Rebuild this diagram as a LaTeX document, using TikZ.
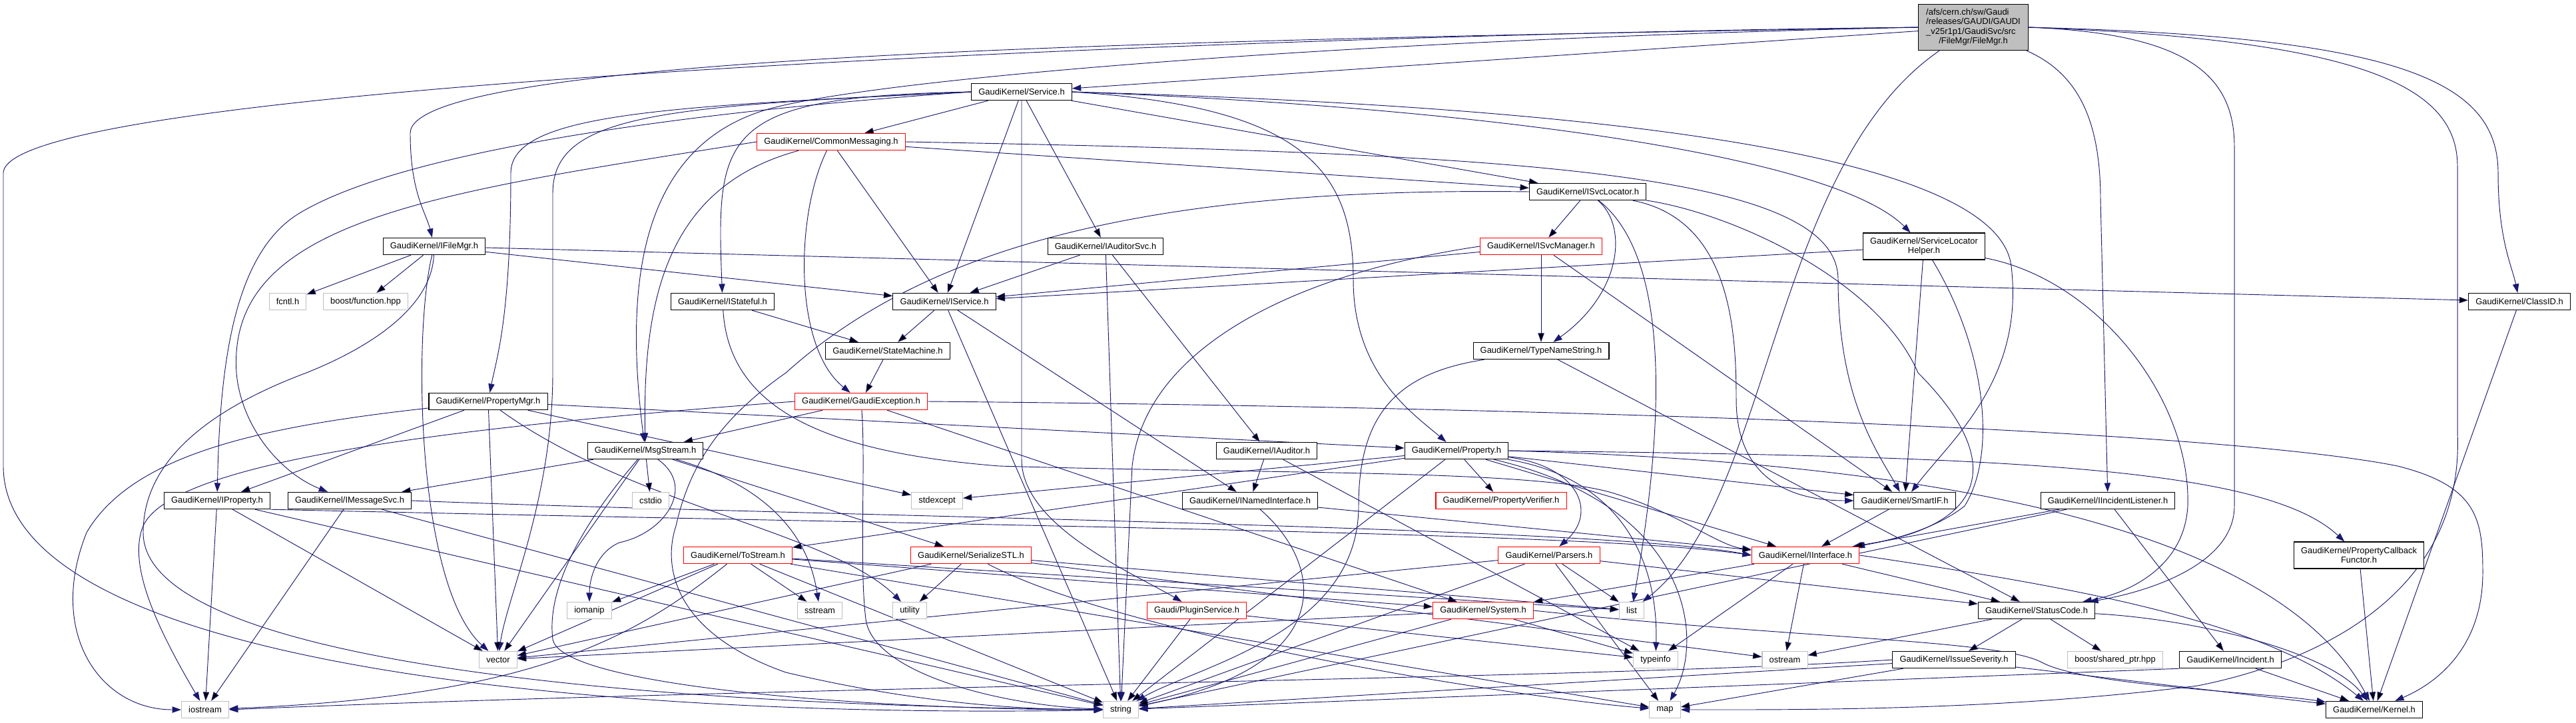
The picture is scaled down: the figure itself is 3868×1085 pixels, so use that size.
\documentclass[tikz,border=0pt]{standalone}
\usepackage{fontspec}
\setmainfont{Liberation Sans}
\usepackage{tikz}
\usepackage{xcolor}
\usetikzlibrary{arrows.meta, backgrounds}
\definecolor{edgeblue}{HTML}{191970}
\definecolor{boxgray}{HTML}{BFBFBF}
\definecolor{boxred}{HTML}{FF0000}
\newcommand{\graphfont}{\fontsize{9.7}{10.8}\selectfont}
\tikzset{
    file-box/.style = {draw=black, fill=white, line width=0.8pt, rectangle, inner xsep=8pt, inner ysep=2pt, minimum height=19pt, font=\graphfont},
    trunc-box/.style = {file-box, draw=boxred},
    sys-box/.style = {file-box, draw=boxgray},
    root-box/.style = {file-box, fill=boxgray, inner xsep=8.5pt, minimum height=52pt},
    two-line-box/.style = {file-box, align=center, minimum height=30pt},
    dep-edge/.style = {draw=edgeblue, line width=0.7pt, -{Triangle[length=10pt, width=7pt]}},
}

\begin{document}
\begin{tikzpicture}[x=0.75pt, y=-0.75pt]
\useasboundingbox (0,0) rectangle (3868,1085);

\node[root-box] (root) at (2963,41) {\begin{tabular}{@{}l@{}}/afs/cern.ch/sw/Gaudi\\/releases/GAUDI/GAUDI\\\_v25r1p1/GaudiSvc/src\\\multicolumn{1}{@{}c@{}}{/FileMgr/FileMgr.h}\end{tabular}};
\node[file-box] (svc) at (1534,138) {GaudiKernel/Service.h};
\node[file-box] (ifilemgr) at (652,370) {GaudiKernel/IFileMgr.h};
\node[sys-box] (fcntl) at (432,453) {fcntl.h};
\node[sys-box] (boostfn) at (549,453) {boost/function.hpp};
\node[trunc-box] (comm) at (1248,213) {GaudiKernel/CommonMessaging.h};
\node[file-box] (isvcloc) at (2384,288) {GaudiKernel/ISvcLocator.h};
\node[two-line-box] (slh) at (2889,370) {GaudiKernel/ServiceLocator\\Helper.h};
\node[file-box] (iauditsvc) at (1660,370) {GaudiKernel/IAuditorSvc.h};
\node[file-box] (istateful) at (1085,453) {GaudiKernel/IStateful.h};
\node[file-box] (iservice) at (1418,453) {GaudiKernel/IService.h};
\node[trunc-box] (isvcmgr) at (2314,370) {GaudiKernel/ISvcManager.h};
\node[file-box] (classid) at (3783,453) {GaudiKernel/ClassID.h};
\node[file-box] (statemach) at (1333,527) {GaudiKernel/StateMachine.h};
\node[file-box] (typename) at (2314,527) {GaudiKernel/TypeNameString.h};
\node[file-box] (propmgr) at (733,603) {GaudiKernel/PropertyMgr.h};
\node[trunc-box] (gexc) at (1293,603) {GaudiKernel/GaudiException.h};
\node[file-box] (msgstream) at (969,677) {GaudiKernel/MsgStream.h};
\node[file-box] (property) at (2187,677) {GaudiKernel/Property.h};
\node[file-box] (iauditor) at (1902,677) {GaudiKernel/IAuditor.h};
\node[file-box] (iproperty) at (326,752) {GaudiKernel/IProperty.h};
\node[file-box] (imsgsvc) at (525,752) {GaudiKernel/IMessageSvc.h};
\node[sys-box] (stdexcept) at (1407,752) {stdexcept};
\node[sys-box] (cstdio) at (977,752) {cstdio};
\node[file-box] (inamed) at (1877,752) {GaudiKernel/INamedInterface.h};
\node[trunc-box] (propverif) at (2254,752) {GaudiKernel/PropertyVerifier.h};
\node[file-box] (smartif) at (2860,752) {GaudiKernel/SmartIF.h};
\node[file-box] (iincident) at (3165,752) {GaudiKernel/IIncidentListener.h};
\node[two-line-box] (propcb) at (3542,834) {GaudiKernel/PropertyCallback\\Functor.h};
\node[trunc-box] (tostream) at (1108,834) {GaudiKernel/ToStream.h};
\node[trunc-box] (serial) at (1458,834) {GaudiKernel/SerializeSTL.h};
\node[trunc-box] (parsers) at (2326,834) {GaudiKernel/Parsers.h};
\node[trunc-box] (iinterface) at (2711,834) {GaudiKernel/IInterface.h};
\node[sys-box] (iomanip) at (885,917) {iomanip};
\node[sys-box] (sstream) at (1231,917) {sstream};
\node[sys-box] (utility) at (1366,917) {utility};
\node[trunc-box] (plugin) at (1797,917) {Gaudi/PluginService.h};
\node[trunc-box] (system) at (2227,917) {GaudiKernel/System.h};
\node[sys-box] (list) at (2450,917) {list};
\node[file-box] (statuscode) at (3058,917) {GaudiKernel/StatusCode.h};
\node[sys-box] (vector) at (748,991) {vector};
\node[sys-box] (typeinfo) at (2486,991) {typeinfo};
\node[sys-box] (ostream) at (2680,991) {ostream};
\node[file-box] (severity) at (2934,991) {GaudiKernel/IssueSeverity.h};
\node[sys-box] (sharedptr) at (3176,991) {boost/shared\_ptr.hpp};
\node[file-box] (incident) at (3349,991) {GaudiKernel/Incident.h};
\node[sys-box] (iostream) at (308,1066) {iostream};
\node[sys-box] (string) at (1683,1066) {string};
\node[sys-box] (map) at (2500,1066) {map};
\node[file-box] (kernel) at (3565,1066) {GaudiKernel/Kernel.h};

\begin{pgfonlayer}{background}
% FileMgr.h
\draw[dep-edge] (root) -- (svc);
\draw[dep-edge] (root.west) .. controls (1800,60) and (616,80) .. (616,200) .. controls (616,290) and (640,320) .. (ifilemgr);
\draw[dep-edge] (root.west) .. controls (2000,50) and (5,120) .. (5,260) -- (5,700) .. controls (5,1000) and (900,1080) .. (string);
\draw[dep-edge] (root.west) .. controls (2000,60) and (1300,120) .. (1150,165) .. controls (950,225) and (940,450) .. (msgstream);
\draw[dep-edge] (root) .. controls (2660,250) and (2660,750) .. (list);
\draw[dep-edge] (root.east) .. controls (3550,60) and (3690,130) .. (3690,250) -- (3690,650) .. controls (3700,880) and (3500,990) .. (3300,1030) .. controls (3000,1068) and (2700,1066) .. (map);
\draw[dep-edge] (root.east) .. controls (3600,55) and (3751,120) .. (3751,260) .. controls (3751,360) and (3772,400) .. (classid);
\draw[dep-edge] (root.east) .. controls (3280,50) and (3355,110) .. (3355,220) -- (3355,760) .. controls (3355,850) and (3220,890) .. (statuscode);
\draw[dep-edge] (root) .. controls (3120,110) and (3154,180) .. (3154,300) -- (iincident);

% Service.h
\path[dep-edge] (svc) edge (comm) edge (iservice) edge (iauditsvc) edge (isvcloc);
\draw[dep-edge] (svc.west) .. controls (1000,170) and (600,230) .. (450,320) .. controls (350,380) and (330,550) .. (iproperty);
\draw[dep-edge] (svc.west) .. controls (1000,160) and (767,170) .. (767,260) .. controls (767,480) and (745,540) .. (propmgr);
\draw[dep-edge] (svc.west) .. controls (1000,160) and (830,170) .. (830,290) -- (830,560) .. controls (830,750) and (760,900) .. (vector);
\draw[dep-edge] (svc.west) .. controls (1080,145) and (1075,200) .. (istateful);
\draw[dep-edge] (svc) -- (1534,690) .. controls (1534,790) and (1700,860) .. (plugin);
\draw[dep-edge] (svc.east) .. controls (2200,160) and (2750,230) .. (slh);
\draw[dep-edge] (svc.east) .. controls (2400,160) and (3000,230) .. (3020,400) .. controls (3040,570) and (2930,660) .. (smartif);
\draw[dep-edge] (svc.east) .. controls (1950,160) and (2032,250) .. (2032,420) .. controls (2032,560) and (2120,620) .. (property);

% CommonMessaging.h
\path[dep-edge] (comm) edge (isvcloc) edge (iservice);
\draw[dep-edge] (comm.east) .. controls (2300,230) and (2760,260) .. (2760,420) .. controls (2760,600) and (2820,680) .. (smartif);
\draw[dep-edge] (comm) .. controls (1000,280) and (965,450) .. (msgstream);
\draw[dep-edge] (comm.west) .. controls (650,290) and (340,330) .. (355,560) .. controls (362,640) and (420,710) .. (imsgsvc);
\draw[dep-edge] (comm) .. controls (1195,320) and (1190,520) .. (gexc);

% IFileMgr.h
\path[dep-edge] (ifilemgr) edge (fcntl) edge (boostfn) edge (iservice) edge (classid);
\draw[dep-edge] (ifilemgr) .. controls (620,500) and (625,880) .. (vector);
\draw[dep-edge] (ifilemgr) .. controls (648,460) and (560,520) .. (460,560) .. controls (300,620) and (215,700) .. (215,800) .. controls (215,1000) and (1000,1060) .. (string);

\path[dep-edge] (iauditsvc) edge (iservice) edge (iauditor) edge (string);
\path[dep-edge] (istateful) edge (statemach);
\draw[dep-edge] (istateful) .. controls (1095,620) and (1250,680) .. (1500,700) .. controls (1900,712) and (2300,705) .. (2420,740) .. controls (2520,770) and (2580,820) .. (iinterface);
\path[dep-edge] (iservice) edge (statemach) edge (string) edge (inamed);

% ISvcLocator.h
\path[dep-edge] (isvcloc) edge (isvcmgr);
\draw[dep-edge] (isvcloc) .. controls (2445,340) and (2435,440) .. (typename);
\draw[dep-edge] (isvcloc) .. controls (2500,380) and (2506,600) .. (list);
\draw[dep-edge] (isvcloc) .. controls (2600,330) and (2607,500) .. (2607,600) .. controls (2607,720) and (2690,752) .. (smartif);
\draw[dep-edge] (isvcloc) .. controls (2600,320) and (2820,420) .. (2880,560) .. controls (3010,690) and (2990,790) .. ([xshift=-8pt]iinterface.north east);
\draw[dep-edge] (isvcloc.west) .. controls (1700,280) and (1380,380) .. (1180,560) .. controls (1080,630) and (1035,700) .. (1015,790) .. controls (995,850) and (1010,950) .. (1180,1010) .. controls (1350,1050) and (1500,1066) .. (string);

\path[dep-edge] (isvcmgr) edge (iservice) edge (typename) edge (smartif);
\draw[dep-edge] (isvcmgr.west) .. controls (1950,410) and (1720,520) .. (1700,700) -- (string);
\path[dep-edge] (slh) edge (iservice) edge (smartif);
\draw[dep-edge] (slh) .. controls (2980,520) and (3000,680) .. (2950,760) .. controls (2900,800) and (2820,815) .. (iinterface);
\draw[dep-edge] (slh) .. controls (3150,420) and (3290,600) .. (3285,760) .. controls (3280,850) and (3200,890) .. (statuscode);
\path[dep-edge] (typename) edge (statuscode);
\draw[dep-edge] (typename) .. controls (2100,560) and (2040,620) .. (2040,760) .. controls (2040,950) and (1800,1000) .. (string);
\path[dep-edge] (classid) edge (kernel);
\path[dep-edge] (statemach) edge (gexc);

% PropertyMgr.h, GaudiException.h, MsgStream.h
\path[dep-edge] (propmgr) edge (iproperty) edge (property) edge (stdexcept) edge (vector);
\draw[dep-edge] (propmgr) .. controls (950,760) and (1250,800) .. (utility);
\draw[dep-edge] (propmgr) .. controls (400,640) and (200,680) .. (130,800) .. controls (70,950) and (150,1066) .. (iostream);
\path[dep-edge] (gexc) edge (msgstream) edge (system);
\draw[dep-edge] (gexc.west) .. controls (700,640) and (260,690) .. (215,790) .. controls (190,850) and (240,950) .. (iostream);
\draw[dep-edge] (gexc) .. controls (1300,700) and (1290,850) .. (1300,930) .. controls (1310,1010) and (1500,1060) .. (string);
\draw[dep-edge] (gexc.east) .. controls (2200,610) and (3300,640) .. (3600,700) .. controls (3720,730) and (3728,780) .. (3728,860) .. controls (3728,980) and (3650,1030) .. (kernel);
\path[dep-edge] (msgstream) edge (imsgsvc) edge (cstdio) edge (serial) edge (vector);
\draw[dep-edge] (msgstream) .. controls (1120,720) and (1210,780) .. (sstream);
\draw[dep-edge] (msgstream) .. controls (1045,730) and (1000,800) .. (930,815) .. controls (895,830) and (885,870) .. (iomanip);
\draw[dep-edge] (msgstream) .. controls (880,780) and (820,880) .. (830,960) .. controls (840,1030) and (1300,1066) .. (string);

% Property.h
\path[dep-edge] (property) edge (stdexcept) edge (tostream) edge (propverif) edge (iinterface) edge (smartif) edge (string);
\draw[dep-edge] (property) .. controls (2370,700) and (2400,770) .. (parsers);
\draw[dep-edge] (property) .. controls (2440,720) and (2490,850) .. (typeinfo);
\draw[dep-edge] (property) .. controls (2540,760) and (2560,960) .. (map);
\draw[dep-edge] (property.east) .. controls (3000,685) and (3400,700) .. (propcb);
\draw[dep-edge] (property.east) .. controls (3100,700) and (3450,850) .. (kernel);

\path[dep-edge] (iauditor) edge (inamed) edge (typeinfo);
\draw[dep-edge] (iproperty.south east) .. controls (1500,790) and (2400,800) .. (iinterface.west);
\path[dep-edge] (iproperty) edge (iostream) edge (vector) edge (string);
\draw[dep-edge] (imsgsvc.east) .. controls (1200,775) and (2400,790) .. (iinterface.west);
\path[dep-edge] (imsgsvc) edge (iostream) edge (string);
\path[dep-edge] (inamed) edge (iinterface);
\draw[dep-edge] (inamed) .. controls (1990,850) and (2010,1000) .. (string);
\path[dep-edge] (smartif) edge (iinterface);
\path[dep-edge] (iincident) edge (iinterface) edge (incident) edge (string);

% lower rows
\path[dep-edge] (tostream) edge (iomanip) edge (sstream) edge (vector) edge (list) edge (system) edge (map) edge (string);
\draw[dep-edge] (tostream) .. controls (950,960) and (800,1045) .. (iostream);
\path[dep-edge] (serial) edge (utility) edge (vector) edge (list) edge (ostream);
\draw[dep-edge] (serial) .. controls (1700,960) and (2300,1050) .. (map);
\path[dep-edge] (parsers) edge (vector) edge (list) edge (map) edge (statuscode) edge (string);
\path[dep-edge] (iinterface) edge (system) edge (typeinfo) edge (ostream) edge (statuscode);
\draw[dep-edge] (iinterface.east) .. controls (3100,880) and (3400,930) .. (kernel);
\path[dep-edge] (system) edge (typeinfo) edge (string) edge (vector);
\draw[dep-edge] (system.east) .. controls (2700,960) and (3000,960) .. (3066,995) .. controls (3130,1030) and (3400,1040) .. (kernel);
\path[dep-edge] (plugin) edge (string) edge (typeinfo);
\path[dep-edge] (statuscode) edge (severity) edge (sharedptr) edge (ostream);
\draw[dep-edge] (statuscode) .. controls (3300,930) and (3500,980) .. (kernel);
\path[dep-edge] (severity) edge (string) edge (map) edge (kernel);
\draw[dep-edge] (severity.west) .. controls (2400,1020) and (1200,1030) .. (iostream.east);
\draw[dep-edge] (incident.south west) -- (string);
\path[dep-edge] (incident) edge (kernel);
\path[dep-edge] (propcb) edge (kernel);
\end{pgfonlayer}
\end{tikzpicture}
\end{document}
